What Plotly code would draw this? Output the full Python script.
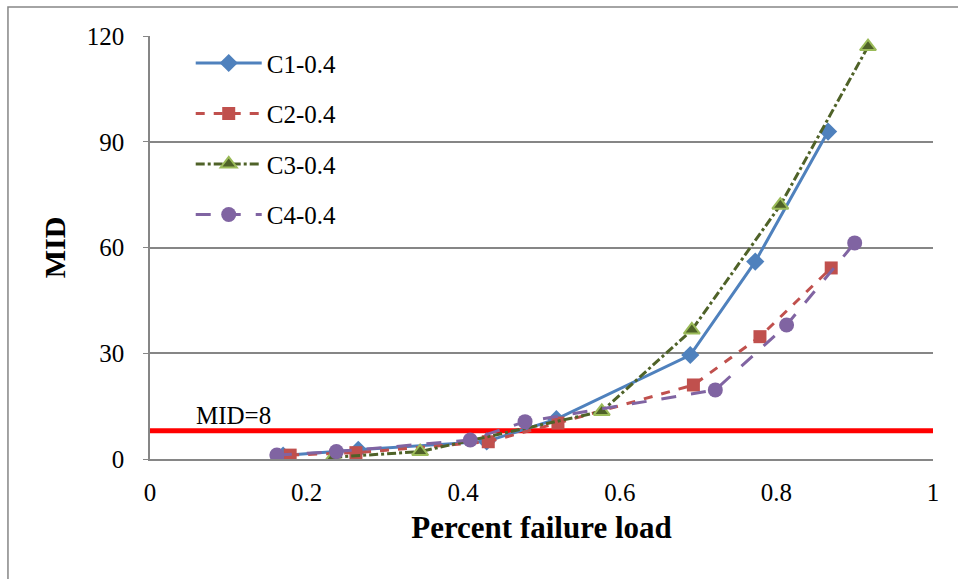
import plotly.graph_objects as go

# Maximum inter-storey drift (MID) versus fraction of failure load
c1_x = [0.170, 0.266, 0.430, 0.519, 0.690, 0.773, 0.866]
c1_y = [1.0, 2.6, 5.0, 11.3, 29.5, 56.0, 92.9]

c2_x = [0.179, 0.263, 0.432, 0.521, 0.694, 0.779, 0.870]
c2_y = [1.1, 1.8, 4.9, 10.2, 21.0, 34.7, 54.2]

c3_x = [0.234, 0.345, 0.577, 0.692, 0.805, 0.917]
c3_y = [0.5, 2.1, 13.5, 36.6, 72.0, 117.0]

c4_x = [0.162, 0.238, 0.409, 0.479, 0.722, 0.813, 0.900]
c4_y = [1.1, 2.1, 5.4, 10.6, 19.6, 38.0, 61.3]

series_names = ["C1-0.4", "C2-0.4", "C3-0.4", "C4-0.4"]
mid_limit = 8
x_ticks = [0, 0.2, 0.4, 0.6, 0.8, 1]
x_tick_text = ["0", "0.2", "0.4", "0.6", "0.8", "1"]
y_ticks = [0, 30, 60, 90, 120]

SERIF = "Liberation Serif, Times New Roman, serif"
GRID = "#868686"

fig = go.Figure()

fig.add_trace(go.Scatter(
    x=c1_x, y=c1_y, name=series_names[0], mode="lines+markers", legendgroup="a",
    line=dict(color="#4F81BD", width=3),
    marker=dict(symbol="diamond", size=14, color="#4F81BD"),
))
fig.add_trace(go.Scatter(
    x=c2_x, y=c2_y, name=series_names[1], mode="lines+markers", legendgroup="b",
    line=dict(color="#C0504D", width=3, dash="dash"),
    marker=dict(symbol="square", size=13, color="#C0504D"),
))
fig.add_trace(go.Scatter(
    x=c3_x, y=c3_y, name=series_names[2], mode="lines+markers", legendgroup="c",
    line=dict(color="#4F6228", width=3, dash="dashdot"),
    marker=dict(symbol="triangle-up", size=14, color="#4F6228",
                line=dict(color="#9BBB59", width=2)),
))
fig.add_trace(go.Scatter(
    x=c4_x, y=c4_y, name=series_names[3], mode="lines+markers", legendgroup="d",
    line=dict(color="#8064A2", width=3, dash="longdash"),
    marker=dict(symbol="circle", size=15, color="#8064A2"),
))

# threshold line and its label
fig.add_shape(type="line", xref="x", yref="y", x0=0, x1=1.003, y0=mid_limit, y1=mid_limit,
              line=dict(color="#FF0000", width=5), layer="below")
fig.add_annotation(x=0.106, y=mid_limit, xref="x", yref="y", text=f"MID={mid_limit}",
                   showarrow=False, yanchor="bottom", yshift=0,
                   font=dict(family=SERIF, size=25, color="black"))

# outer chart frame
fig.add_shape(type="rect", xref="paper", yref="paper",
              x0=-0.1814, x1=1.2, y0=-0.5, y1=1.0686,
              line=dict(color=GRID, width=1.5), layer="below")

fig.update_layout(
    width=958, height=579,
    margin=dict(l=150, r=25, t=36, b=120),
    paper_bgcolor="white", plot_bgcolor="white",
    font=dict(family=SERIF, size=25, color="black"),
    showlegend=True,
    legend=dict(x=0.052, y=0.99, xanchor="left", yanchor="top",
                bgcolor="rgba(0,0,0,0)", tracegroupgap=15,
                font=dict(family=SERIF, size=25, color="black"),
                itemwidth=66),
    xaxis=dict(
        range=[0, 1], tickvals=x_ticks, ticktext=x_tick_text,
        showgrid=False, zeroline=False, showline=True, linecolor=GRID, linewidth=1.5,
        ticks="", ticklabelstandoff=10,
        tickfont=dict(family=SERIF, size=25),
        title=dict(text="<b>Percent failure load</b>", standoff=12,
                   font=dict(family=SERIF, size=31)),
    ),
    yaxis=dict(
        range=[0, 120], tickvals=y_ticks,
        showgrid=True, gridcolor=GRID, gridwidth=1.5, zeroline=False,
        showline=True, linecolor=GRID, linewidth=1.5,
        ticks="outside", ticklen=5, tickcolor=GRID, ticklabelstandoff=14,
        tickfont=dict(family=SERIF, size=25),
        title=dict(text="<b>MID</b>", standoff=12,
                   font=dict(family=SERIF, size=30)),
    ),
)

fig.write_html("out.html")
